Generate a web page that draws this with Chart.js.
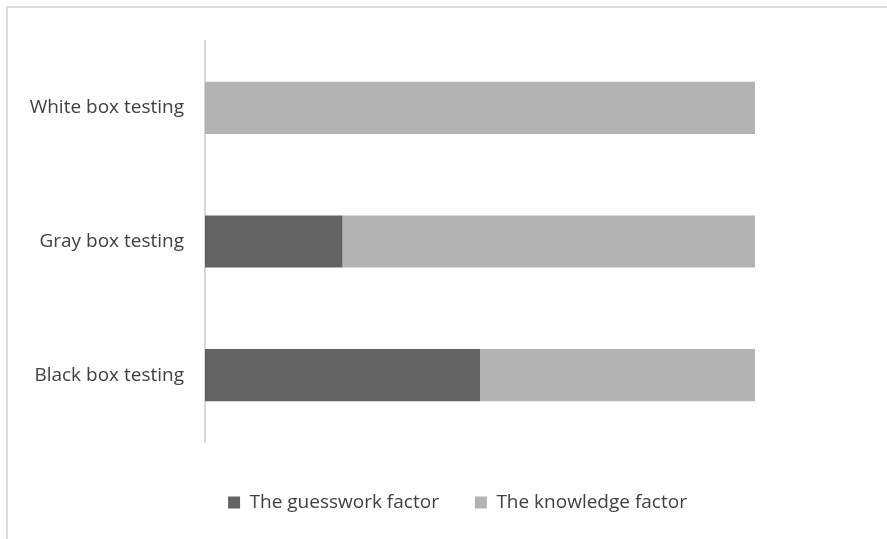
<!DOCTYPE html>
<html>
<head>
<meta charset="utf-8">
<script src="https://cdn.jsdelivr.net/npm/chart.js@4/dist/chart.umd.min.js"></script>
<style>
  html, body { margin: 0; padding: 0; background: #fff; }
  #wrap { position: relative; width: 887px; height: 539px; }
  #frame { position: absolute; left: 6px; top: 6px; width: 900px; height: 600px;
           border-top: 2px solid #dcdcdc; border-left: 2px solid #dcdcdc; }
  canvas { position: absolute; left: 0; top: 0; }
</style>
</head>
<body>
<div id="wrap">
  <div id="frame"></div>
  <canvas id="graphCanvas" width="887" height="539"></canvas>
</div>
<script>
var categories = ["White box testing", "Gray box testing", "Black box testing"];
var guesswork = [0, 25, 50];
var knowledge = [100, 75, 50];

var chartdata = {
    labels: categories,
    datasets: [
        {
            label: 'The guesswork factor',
            backgroundColor: '#636363',
            data: guesswork
        },
        {
            label: 'The knowledge factor',
            backgroundColor: '#b3b3b3',
            data: knowledge
        }
    ]
};

// legend sits a bit right of the canvas centre in the original
var shiftLegend = {
    id: 'shiftLegend',
    afterLayout: function(chart){
        chart.legend.left += 25;
        chart.legend.right += 25;
    }
};

var ctx = document.getElementById("graphCanvas");

var barGraph = new Chart(ctx, {
    type: 'bar',
    data: chartdata,
    plugins: [shiftLegend],
    options: {
        indexAxis: 'y',
        responsive: false,
        animation: false,
        layout: { padding: { top: 41, right: 22, bottom: 17, left: 0 } },
        datasets: { bar: { categoryPercentage: 1, barPercentage: 0.39 } },
        scales: {
            x: {
                stacked: true, min: 0, max: 120,
                grid: { display: false, drawTicks: false },
                border: { display: false },
                ticks: { display: false },
                afterFit: function(scale){ scale.height = 15; }
            },
            y: {
                stacked: true,
                grid: { display: false, drawTicks: false },
                border: { display: true, color: '#d9d9d9', width: 2 },
                ticks: { color: '#404040', padding: 21, font: { family: 'Open Sans', size: 19 } },
                afterFit: function(scale){ scale.width = 205; }
            }
        },
        plugins: {
            tooltip: { enabled: false },
            legend: {
                position: 'bottom',
                labels: {
                    boxWidth: 12, boxHeight: 12, padding: 36,
                    color: '#404040',
                    font: { family: 'Open Sans', size: 19 }
                }
            }
        }
    }
});
</script>
</body>
</html>
